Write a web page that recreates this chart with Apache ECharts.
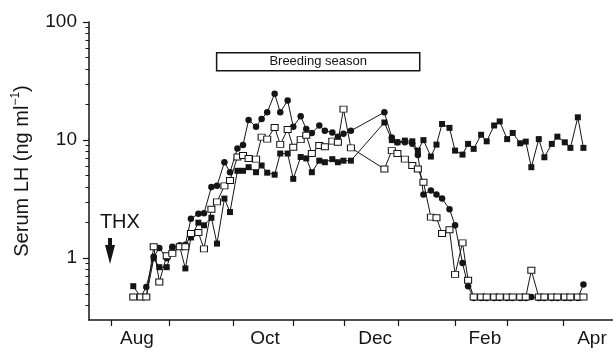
<!DOCTYPE html>
<html>
<head>
<meta charset="utf-8">
<script src="https://cdn.jsdelivr.net/npm/echarts@6/dist/echarts.min.js"></script>
<style>
  html, body { margin: 0; padding: 0; background: #ffffff; }
  #chart { width: 613px; height: 354px; }
</style>
</head>
<body>
<div id="chart"></div>
<script>
// Sampling days, counted from 1 August
const sampleDays = [
  12, 16, 19, 23, 26, 30, 33, 37, 40, 43, 47, 50, 54, 57, 61, 64,
  68, 71, 74, 78, 81, 84, 88, 91, 95, 98, 102, 105, 108, 112, 115, 119, 122, 125, 129,
  147, 151, 154, 158, 162, 165, 168, 172, 175, 178, 182, 185, 189, 192, 195, 199,
  202, 206, 209, 213, 216, 220, 223, 226, 230, 233, 237, 240, 244, 247, 251, 254
];

// Serum LH (ng/ml), one array per animal
const lhFilledCircle = [
  0.47, 0.47, 0.57, 1.03, 1.22, 1.0, 1.25, 1.29, 1.3, 2.16, 2.38, 2.4, 4.0, 4.1, 6.5, 5.35,
  8.5, 9.1, 14.8, 13.0, 15.1, 17.2, 24.7, 17.2, 21.6, 13.0, 15.9, 12.4, 11.5, 13.3, 12.0, 11.6, 10.7, 11.3, 12.0,
  17.2, 10.5, 9.6, 9.6, 9.3, 7.5, 3.47, 3.75, 3.47, 3.2, 2.6, 1.9, 0.91, 0.58, 0.46, 0.46,
  0.46, 0.46, 0.46, 0.46, 0.46, 0.46, 0.46, 0.47, 0.46, 0.46, 0.46, 0.46, 0.46, 0.46, 0.46, 0.6
];
const lhOpenSquare = [
  0.47, 0.47, 0.47, 1.25, 0.63, 1.05, 1.1, 1.25, 1.25, 1.62, 1.65, 1.2, 2.6, 3.0, 4.1, 4.55,
  7.2, 7.4, 7.0, 6.9, 10.6, 10.2, 12.8, 9.2, 12.3, 8.7, 10.1, 11.0, 7.7, 9.0, 8.8, 9.8, 9.6, 18.3, 8.6,
  5.7, 8.15, 7.7, 6.9, 6.1, 5.7, 4.4, 2.23, 2.2, 1.62, 1.74, 0.73, 1.35, 0.65, 0.47, 0.47,
  0.47, 0.47, 0.47, 0.47, 0.47, 0.47, 0.47, 0.79, 0.47, 0.47, 0.47, 0.47, 0.47, 0.47, 0.47, 0.47
];
const lhFilledSquare = [
  0.58, 0.47, 0.47, 1.0, 0.84, 0.84, 1.2, 1.25, 0.82, 1.5, 2.0, 1.9, 2.2, 1.33, 3.2, 2.46,
  5.5, 5.5, 5.9, 5.35, 6.1, 5.3, 5.1, 7.7, 7.7, 4.7, 7.2, 7.0, 5.35, 6.7, 6.5, 6.9, 6.5, 6.7, 6.7,
  14.1, 10.0, 9.58, 9.9, 9.77, 8.15, 10.0, 7.26, 9.16, 13.7, 12.7, 8.15, 7.54, 9.29, 8.43, 11.1,
  9.77, 13.3, 14.4, 10.2, 11.5, 9.4, 9.71, 5.9, 10.2, 7.16, 9.29, 10.7, 9.58, 8.6, 15.6, 8.6
];

// Month boundaries (tick marks) and month names placed mid-month
const monthTickDays = [0, 31.2, 65.6, 97.8, 125.3, 154.3, 184.9, 212.9, 243];
const monthLabels = ['Aug', 'Oct', 'Dec', 'Feb', 'Apr'];
const monthLabelDays = [14, 82.8, 142, 201, 258.6];

// Log axis ticks
const yMajorTicks = [1, 10, 100];
const yMinorTicks = [0.4, 0.5, 0.6, 0.7, 0.8, 0.9, 2, 3, 4, 5, 6, 7, 8, 9, 20, 30, 40, 50, 60, 70, 80, 90];

// Breeding season (days) and thyroidectomy day
const breedingSeason = { start: 56.8, end: 166, label: 'Breeding season' };
const thxDay = -0.5;

const FONT = '"Liberation Sans", Arial, Helvetica, sans-serif';
const INK = '#151515';

const pairs = (vals) => sampleDays.map((d, i) => [d, vals[i]]);

const chart = echarts.init(document.getElementById('chart'), null, { renderer: 'canvas' });

chart.setOption({
  animation: false,
  backgroundColor: '#ffffff',
  grid: { left: 89, right: 0, top: 22, bottom: 34, containLabel: false },
  xAxis: {
    type: 'value',
    min: -11.8,
    max: 269.9,
    axisLine: { show: true, onZero: false, lineStyle: { color: INK, width: 1.5 } },
    axisTick: { show: true, customValues: monthTickDays, length: 6, inside: false,
                lineStyle: { color: INK, width: 1.2 } },
    axisLabel: {
      show: true, customValues: monthLabelDays, margin: 9,
      fontFamily: FONT, fontSize: 19, color: INK,
      formatter: (v) => {
        const i = monthLabelDays.findIndex(d => Math.abs(d - v) < 1e-6);
        return i >= 0 ? monthLabels[i] : '';
      }
    },
    splitLine: { show: false }
  },
  yAxis: [
    {
      type: 'log', logBase: 10, min: 0.3, max: 100,
      axisLine: { show: true, onZero: false, lineStyle: { color: INK, width: 1.5 } },
      axisTick: { show: true, customValues: yMajorTicks, length: 6, lineStyle: { color: INK, width: 1.2 } },
      axisLabel: {
        show: true, customValues: yMajorTicks, margin: 12,
        fontFamily: FONT, fontSize: 19, color: INK,
        formatter: (v) => String(Math.round(v))
      },
      splitLine: { show: false },
      name: '{a|Serum LH (ng ml}{b|−1}{a|)}',
      nameLocation: 'middle',
      nameRotate: 90,
      nameGap: 55,
      nameTextStyle: {
        fontFamily: FONT, color: INK,
        rich: {
          a: { fontFamily: FONT, fontSize: 20, color: INK, lineHeight: 24 },
          b: { fontFamily: FONT, fontSize: 12, color: INK, lineHeight: 12, verticalAlign: 'top' }
        }
      }
    },
    {
      type: 'log', logBase: 10, min: 0.3, max: 100, position: 'left', offset: 0,
      axisLine: { show: false, onZero: false },
      axisTick: { show: true, customValues: yMinorTicks, length: 3.5, lineStyle: { color: INK, width: 1 } },
      axisLabel: { show: false },
      splitLine: { show: false }
    }
  ],
  series: [
    {
      name: 'Filled square',
      type: 'line',
      data: pairs(lhFilledSquare),
      symbol: 'rect', symbolSize: 6, showAllSymbol: true,
      lineStyle: { color: INK, width: 1 },
      itemStyle: { color: INK },
      z: 2,
      markArea: {
        silent: true,
        itemStyle: { color: '#ffffff', borderColor: INK, borderWidth: 1.5 },
        label: { show: true, position: 'inside', color: INK, fontFamily: FONT, fontSize: 13 },
        data: [[
          { name: breedingSeason.label, coord: [breedingSeason.start, 38.6] },
          { coord: [breedingSeason.end, 55] }
        ]]
      },
      markPoint: {
        silent: true,
        data: [
          {
            // downward arrow marking the thyroidectomy
            coord: [thxDay, 1.15],
            symbol: 'path://M3,0 L7,0 L7,7 L10,7 L5,26 L0,7 L3,7 Z',
            symbolSize: [10, 26],
            itemStyle: { color: INK },
            label: { show: false }
          },
          {
            coord: [thxDay + 5.3, 2.0],
            symbol: 'circle', symbolSize: 0,
            label: { show: true, formatter: 'THX', position: 'inside',
                     fontFamily: FONT, fontSize: 20, color: INK }
          }
        ]
      }
    },
    {
      name: 'Filled circle',
      type: 'line',
      data: pairs(lhFilledCircle),
      symbol: 'circle', symbolSize: 6.5, showAllSymbol: true,
      lineStyle: { color: INK, width: 1 },
      itemStyle: { color: INK },
      z: 3
    },
    {
      name: 'Open square',
      type: 'line',
      data: pairs(lhOpenSquare),
      symbol: 'rect', symbolSize: [7, 6], showAllSymbol: true,
      lineStyle: { color: INK, width: 1 },
      itemStyle: { color: '#ffffff', borderColor: INK, borderWidth: 1 },
      z: 4
    }
  ]
});
</script>
</body>
</html>
